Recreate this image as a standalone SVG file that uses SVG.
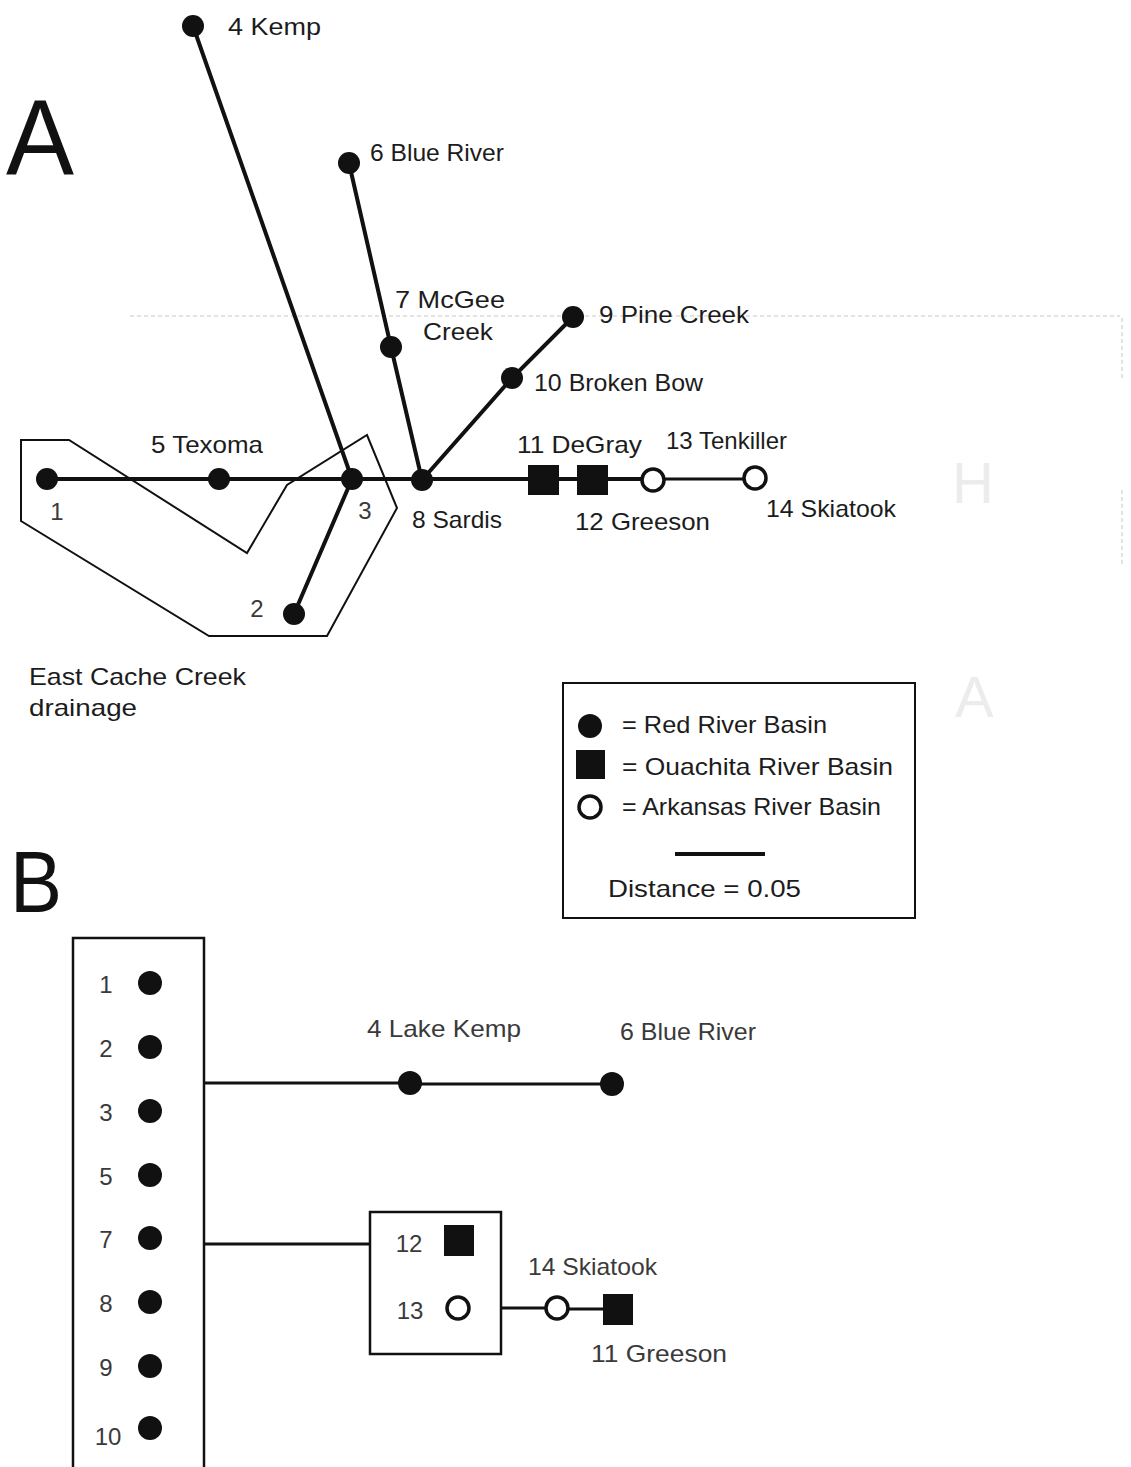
<svg xmlns="http://www.w3.org/2000/svg" width="1131" height="1467" viewBox="0 0 1131 1467">
<style>
.t{font-family:"Liberation Sans",Arial,sans-serif;font-size:24px;fill:#1c1c1c}
.g{fill:#3a3a3a}
.big{font-family:"Liberation Sans",Arial,sans-serif;fill:#111}
.ln{stroke:#111;stroke-width:4;fill:none;stroke-linecap:round}
.ln3{stroke:#111;stroke-width:3;fill:none}
.thin{stroke:#111;stroke-width:2;fill:none}
.dot{fill:#111}
.open{fill:#fff;stroke:#111;stroke-width:3.5}
.faint{stroke:#dadada;stroke-width:1.5;fill:none;stroke-dasharray:4 3}
</style>
<rect width="1131" height="1467" fill="#fff"/>
<g id="scan-marks">
<path class="faint" d="M130,316 H1120 M1122,318 V380 M1122,490 V565"/>
<text x="952" y="503" font-family="Liberation Sans,sans-serif" font-size="58" fill="#ececec">H</text>
<text x="955" y="717" font-family="Liberation Sans,sans-serif" font-size="58" fill="#ececec">A</text>
</g>
<text class="big" x="6" y="175" font-size="107" textLength="68" lengthAdjust="spacingAndGlyphs">A</text>
<text class="big" x="10" y="912" font-size="87" textLength="52" lengthAdjust="spacingAndGlyphs">B</text>
<g id="drainage-outline">
<polygon class="thin" points="21,440 69,440 247,553 287,485 367,435 397,508 327,636 209,636 21,521"/>
<text class="t" x="29" y="685" textLength="217" lengthAdjust="spacingAndGlyphs">East Cache Creek</text>
<text class="t" x="29" y="716" textLength="108" lengthAdjust="spacingAndGlyphs">drainage</text>
</g>
<g id="connectors">
<line class="ln" x1="47" y1="479" x2="653" y2="479"/>
<line class="ln3" x1="653" y1="479" x2="755" y2="479"/>
<line class="ln" x1="193" y1="26" x2="352" y2="479"/>
<polyline class="ln" points="349,163 391,347 422,480"/>
<polyline class="ln" points="573,317 512,378 422,480"/>
<line class="ln" x1="294" y1="614" x2="352" y2="479"/>
<line class="ln3" x1="204" y1="1083" x2="410" y2="1083"/>
<line class="ln3" x1="410" y1="1084" x2="612" y2="1084"/>
<line class="ln3" x1="204" y1="1244" x2="370" y2="1244"/>
<line class="ln3" x1="501" y1="1308" x2="557" y2="1308"/>
<line class="ln3" x1="557" y1="1309" x2="603" y2="1309"/>
</g>
<g id="a-node-1"><circle class="dot" cx="47" cy="479" r="11"/><text class="t g" x="57" y="520" text-anchor="middle">1</text></g>
<g id="a-node-2"><circle class="dot" cx="294" cy="614" r="11"/><text class="t g" x="257" y="617" text-anchor="middle">2</text></g>
<g id="a-node-3"><circle class="dot" cx="352" cy="479" r="11"/><text class="t g" x="365" y="519" text-anchor="middle">3</text></g>
<g id="a-node-4"><circle class="dot" cx="193" cy="26" r="11"/><text class="t" x="228" y="35" textLength="93" lengthAdjust="spacingAndGlyphs">4 Kemp</text></g>
<g id="a-node-5"><circle class="dot" cx="219" cy="479" r="11"/><text class="t" x="151" y="453" textLength="112" lengthAdjust="spacingAndGlyphs">5 Texoma</text></g>
<g id="a-node-6"><circle class="dot" cx="349" cy="163" r="11"/><text class="t" x="370" y="161" textLength="134" lengthAdjust="spacingAndGlyphs">6 Blue River</text></g>
<g id="a-node-7"><circle class="dot" cx="391" cy="347" r="11"/><text class="t" x="395" y="308" textLength="110" lengthAdjust="spacingAndGlyphs">7 McGee</text><text class="t" x="423" y="340" textLength="70" lengthAdjust="spacingAndGlyphs">Creek</text></g>
<g id="a-node-8"><circle class="dot" cx="422" cy="480" r="11"/><text class="t" x="412" y="528" textLength="90" lengthAdjust="spacingAndGlyphs">8 Sardis</text></g>
<g id="a-node-9"><circle class="dot" cx="573" cy="317" r="11"/><text class="t" x="599" y="323" textLength="150" lengthAdjust="spacingAndGlyphs">9 Pine Creek</text></g>
<g id="a-node-10"><circle class="dot" cx="512" cy="378" r="11"/><text class="t" x="534" y="391" textLength="169" lengthAdjust="spacingAndGlyphs">10 Broken Bow</text></g>
<g id="a-node-11"><rect class="dot" x="528" y="465" width="31" height="30"/><text class="t" x="517" y="453" textLength="125" lengthAdjust="spacingAndGlyphs">11 DeGray</text></g>
<g id="a-node-12"><rect class="dot" x="577" y="465" width="31" height="30"/><text class="t" x="575" y="530" textLength="135" lengthAdjust="spacingAndGlyphs">12 Greeson</text></g>
<g id="a-node-13"><circle class="open" cx="653" cy="480" r="11"/><text class="t" x="666" y="449" textLength="121" lengthAdjust="spacingAndGlyphs">13 Tenkiller</text></g>
<g id="a-node-14"><circle class="open" cx="755" cy="478" r="11"/><text class="t" x="766" y="517" textLength="130" lengthAdjust="spacingAndGlyphs">14 Skiatook</text></g>
<g id="legend">
<rect x="563" y="683" width="352" height="235" fill="none" stroke="#111" stroke-width="2"/>
<circle class="dot" cx="590" cy="726" r="12"/>
<text class="t" x="622" y="733" textLength="205" lengthAdjust="spacingAndGlyphs">= Red River Basin</text>
<rect class="dot" x="576" y="750" width="29" height="29"/>
<text class="t" x="622" y="775" textLength="271" lengthAdjust="spacingAndGlyphs">= Ouachita River Basin</text>
<circle class="open" cx="590" cy="807" r="11"/>
<text class="t" x="622" y="815" textLength="259" lengthAdjust="spacingAndGlyphs">= Arkansas River Basin</text>
<line x1="675" y1="854" x2="765" y2="854" stroke="#111" stroke-width="4"/>
<text class="t" x="608" y="897" textLength="193" lengthAdjust="spacingAndGlyphs">Distance = 0.05</text>
</g>
<g id="b-cluster">
<path d="M73,1467 V938 H204 V1467" fill="none" stroke="#111" stroke-width="2.5"/>
<circle class="dot" cx="150" cy="983" r="12"/><text class="t g" x="106" y="993" text-anchor="middle">1</text>
<circle class="dot" cx="150" cy="1047" r="12"/><text class="t g" x="106" y="1057" text-anchor="middle">2</text>
<circle class="dot" cx="150" cy="1111" r="12"/><text class="t g" x="106" y="1121" text-anchor="middle">3</text>
<circle class="dot" cx="150" cy="1175" r="12"/><text class="t g" x="106" y="1185" text-anchor="middle">5</text>
<circle class="dot" cx="150" cy="1238" r="12"/><text class="t g" x="106" y="1248" text-anchor="middle">7</text>
<circle class="dot" cx="150" cy="1302" r="12"/><text class="t g" x="106" y="1312" text-anchor="middle">8</text>
<circle class="dot" cx="150" cy="1366" r="12"/><text class="t g" x="106" y="1376" text-anchor="middle">9</text>
<circle class="dot" cx="150" cy="1428" r="12"/><text class="t g" x="108" y="1445" text-anchor="middle">10</text>
</g>
<g id="b-node-4"><circle class="dot" cx="410" cy="1083" r="12"/><text class="t g" x="367" y="1037" textLength="154" lengthAdjust="spacingAndGlyphs">4 Lake Kemp</text></g>
<g id="b-node-6"><circle class="dot" cx="612" cy="1084" r="12"/><text class="t g" x="620" y="1040" textLength="136" lengthAdjust="spacingAndGlyphs">6 Blue River</text></g>
<g id="b-cluster-12-13">
<rect x="370" y="1212" width="131" height="142" fill="none" stroke="#111" stroke-width="2.5"/>
<rect class="dot" x="444" y="1225" width="30" height="31"/><text class="t g" x="409" y="1252" text-anchor="middle">12</text>
<circle class="open" cx="458" cy="1308" r="11"/><text class="t g" x="410" y="1319" text-anchor="middle">13</text>
</g>
<g id="b-node-14"><circle class="open" cx="557" cy="1308" r="11" stroke-width="3"/><text class="t g" x="528" y="1275" textLength="129" lengthAdjust="spacingAndGlyphs">14 Skiatook</text></g>
<g id="b-node-11"><rect class="dot" x="603" y="1294" width="30" height="31"/><text class="t g" x="591" y="1362" textLength="136" lengthAdjust="spacingAndGlyphs">11 Greeson</text></g>
</svg>
